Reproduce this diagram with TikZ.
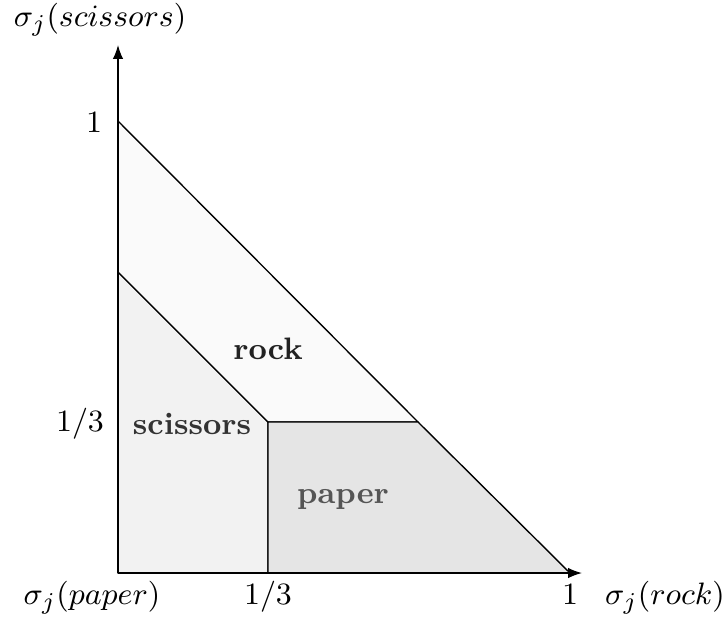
\documentclass[tikz,border=0pt]{standalone}
\usetikzlibrary{arrows.meta}
\definecolor{rockfill}{HTML}{FAFAFA}
\definecolor{scisfill}{HTML}{F2F2F2}
\definecolor{paperfill}{HTML}{E5E5E5}
\definecolor{rocktxt}{HTML}{222222}
\definecolor{scistxt}{HTML}{333333}
\definecolor{papertxt}{HTML}{555555}
\tikzset{
  region/.style={draw=black, line width=0.4pt},
  axis/.style={line width=0.4pt, -{Latex[length=4pt,width=3pt]}},
  lbl/.style={inner sep=0pt, anchor=base, font=\fontsize{9.5}{11}\selectfont},
  reg/.style={inner sep=0pt, anchor=base, font=\fontsize{9}{11}\selectfont\bfseries}
}
\begin{document}
\begin{tikzpicture}[x=0.0102cm,y=-0.0102cm]
\useasboundingbox (0,0) rectangle (724,617);
% regions
\coordinate (O) at (118,573);
\coordinate (Y1) at (118,121);
\coordinate (Y23) at (118,272);
\coordinate (C) at (268,422);
\coordinate (X13) at (268,573);
\coordinate (R) at (418,422);
\coordinate (X1) at (570,573);
\coordinate (XE) at (582,573);
\coordinate (YE) at (118,45);
\filldraw[region, fill=scisfill] (O) -- (Y23) -- (C) -- (X13) -- cycle;
\filldraw[region, fill=rockfill] (Y23) -- (Y1) -- (R) -- (C) -- cycle;
\filldraw[region, fill=paperfill] (X13) -- (C) -- (R) -- (X1) -- cycle;
% axes
\draw[axis] (O) -- (XE);
\draw[axis] (O) -- (YE);
% labels
\node[lbl] (ly) at (100,26) {$\sigma_j(scissors)$};
\node[lbl] (l1y) at (94,132) {$1$};
\node[lbl] (l13y) at (80,431) {$1/3$};
\node[lbl] (lp) at (92,604) {$\sigma_j(paper)$};
\node[lbl] (l13x) at (268,604) {$1/3$};
\node[lbl] (l1x) at (570,604) {$1$};
\node[lbl] (lx) at (665,604) {$\sigma_j(rock)$};
\node[reg, text=rocktxt] (trock) at (268,359) {rock};
\node[reg, text=scistxt] (tscis) at (192,434) {scissors};
\node[reg, text=papertxt] (tpaper) at (343,503) {paper};
\end{tikzpicture}
\end{document}
